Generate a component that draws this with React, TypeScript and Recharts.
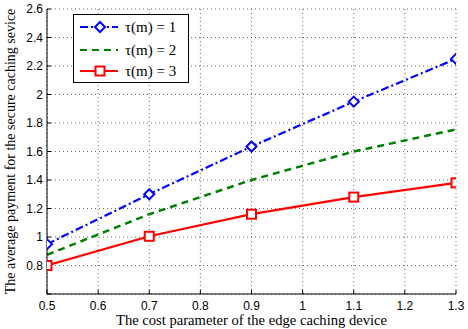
import React from 'react';
import { LineChart, Line, XAxis, YAxis, CartesianGrid } from 'recharts';

const costParams = [0.5, 0.7, 0.9, 1.1, 1.3];
const tau1 = [0.95, 1.3, 1.635, 1.95, 2.25];
const tau2 = [0.875, 1.16, 1.4, 1.6, 1.755];
const tau3 = [0.8, 1.005, 1.16, 1.28, 1.38];

const xTicks = [0.5, 0.6, 0.7, 0.8, 0.9, 1, 1.1, 1.2, 1.3];
const yTicks = [0.6, 0.8, 1, 1.2, 1.4, 1.6, 1.8, 2, 2.2, 2.4, 2.6];
const seriesNames = ['τ(m) = 1', 'τ(m) = 2', 'τ(m) = 3'];

const data = costParams.map((c, i) => ({ c, t1: tau1[i], t2: tau2[i], t3: tau3[i] }));

const BLUE = '#0000ff';
const GREEN = '#008000';
const RED = '#ff0000';
const SERIF = '"Liberation Serif", "Times New Roman", serif';
const SANS = '"Liberation Sans", Arial, sans-serif';

const Diamond = (props: any) => {
  const { cx, cy } = props;
  if (cx == null || cy == null) return null;
  const r = 5;
  return (
    <path
      d={`M${cx},${cy - r} L${cx + r},${cy} L${cx},${cy + r} L${cx - r},${cy} Z`}
      fill="#fff"
      stroke={BLUE}
      strokeWidth={2}
    />
  );
};

const Square = (props: any) => {
  const { cx, cy } = props;
  if (cx == null || cy == null) return null;
  const r = 4.5;
  return <rect x={cx - r} y={cy - r} width={2 * r} height={2 * r} fill="#fff" stroke={RED} strokeWidth={2} />;
};

const NoLabel = () => <g />;

const yFmt = (v: number) => (v === 0.6 ? '' : String(Number(v.toFixed(1))));

// legend drawn as an overlay, like the matlab box in the upper left
function LegendBox() {
  const styles = [
    { color: BLUE, dash: '8 3 2 3', mark: 'diamond' },
    { color: GREEN, dash: '7 5', mark: 'none' },
    { color: RED, dash: undefined, mark: 'square' },
  ];
  const rowY = [13, 36, 57];
  return (
    <svg width={117} height={70} style={{ position: 'absolute', left: 73, top: 14 }}>
      <rect x={0.5} y={0.5} width={115} height={68} fill="#fff" stroke="#000" strokeWidth={1} />
      {styles.map((s, i) => (
        <g key={i}>
          <line x1={7} y1={rowY[i]} x2={45} y2={rowY[i]} stroke={s.color} strokeWidth={2.2} strokeDasharray={s.dash} />
          {s.mark === 'diamond' && (
            <path d={`M27,${rowY[i] - 5} L32,${rowY[i]} L27,${rowY[i] + 5} L22,${rowY[i]} Z`} fill="#fff" stroke={BLUE} strokeWidth={2} />
          )}
          {s.mark === 'square' && (
            <rect x={22.5} y={rowY[i] - 4.5} width={9} height={9} fill="#fff" stroke={RED} strokeWidth={2} />
          )}
          <text x={52} y={rowY[i] + 5} fontFamily={SERIF} fontSize={15} fill="#000">
            {seriesNames[i]}
          </text>
        </g>
      ))}
    </svg>
  );
}

export default function App() {
  return (
    <div style={{ position: 'absolute', left: 0, top: 0, width: 468, height: 329, background: '#fff' }}>
      <LineChart width={468} height={329} data={data} margin={{ top: 9, right: 12, bottom: 0, left: 7 }}>
        <CartesianGrid xAxisId="b" yAxisId="l" stroke="#444" strokeDasharray="1 3" strokeWidth={0.8} />
        <XAxis
          xAxisId="b"
          dataKey="c"
          type="number"
          domain={[0.5, 1.3]}
          ticks={xTicks}
          allowDataOverflow
          tickFormatter={(v: number) => String(Number(v.toFixed(1)))}
          stroke="#000"
          tickSize={-4}
          tickMargin={11}
          height={35}
          tick={{ fill: '#000', fontSize: 12, fontFamily: SANS }}
          label={{ value: 'The cost parameter of the edge caching device', position: 'insideBottom', offset: 4, fill: '#000', fontSize: 14.6, fontFamily: SERIF }}
        />
        <XAxis
          xAxisId="t"
          dataKey="c"
          type="number"
          orientation="top"
          domain={[0.5, 1.3]}
          ticks={xTicks}
          allowDataOverflow
          stroke="#000"
          tickSize={-4}
          height={0}
          tick={NoLabel}
        />
        <YAxis
          yAxisId="l"
          type="number"
          domain={[0.6, 2.6]}
          ticks={yTicks}
          allowDataOverflow
          tickFormatter={yFmt}
          stroke="#000"
          tickSize={-4}
          tickMargin={8}
          width={40}
          tick={{ fill: '#000', fontSize: 12, fontFamily: SANS }}
          label={{ value: 'The average payment for the secure caching sevice', angle: -90, position: 'insideLeft', offset: 3, fill: '#000', fontSize: 14, fontFamily: SERIF, style: { textAnchor: 'middle' } }}
        />
        <YAxis
          yAxisId="r"
          type="number"
          orientation="right"
          domain={[0.6, 2.6]}
          ticks={yTicks}
          allowDataOverflow
          stroke="#000"
          tickSize={-4}
          width={0}
          tick={NoLabel}
        />
        <Line xAxisId="b" yAxisId="l" dataKey="t1" name={seriesNames[0]} stroke={BLUE} strokeWidth={2.2} strokeDasharray="8 3 2 3" dot={<Diamond />} isAnimationActive={false} />
        <Line xAxisId="b" yAxisId="l" dataKey="t2" name={seriesNames[1]} stroke={GREEN} strokeWidth={2.5} strokeDasharray="7 5" dot={false} isAnimationActive={false} />
        <Line xAxisId="b" yAxisId="l" dataKey="t3" name={seriesNames[2]} stroke={RED} strokeWidth={2.2} dot={<Square />} isAnimationActive={false} />
      </LineChart>
      <LegendBox />
    </div>
  );
}
